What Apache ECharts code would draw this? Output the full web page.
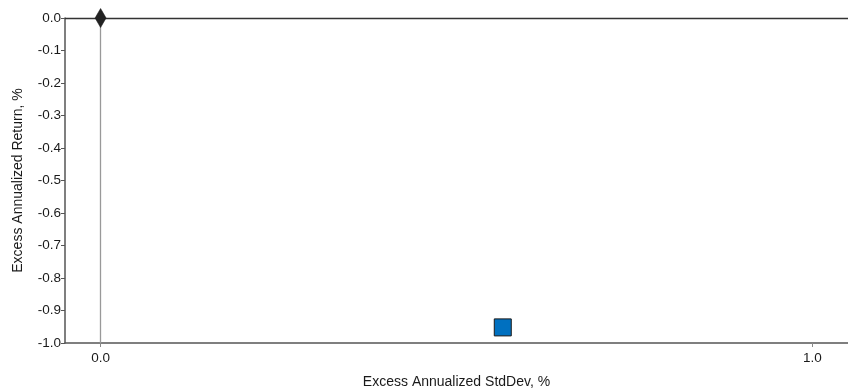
<!DOCTYPE html>
<html>
<head>
<meta charset="utf-8">
<script src="https://cdn.jsdelivr.net/npm/echarts@6/dist/echarts.min.js"></script>
<style>
  html, body { margin: 0; padding: 0; background: #fff; }
  #chart { width: 848px; height: 391px; }
</style>
</head>
<body>
<div id="chart"></div>
<script>
// Risk/return points: excess annualized std dev (x) vs excess annualized return (y), in %
const benchmarkPoint = [0.0, 0.0];
const portfolioPoint = [0.565, -0.952];

const xTicks = [0.0, 1.0];
const yMin = -1.0, yMax = 0.0, yStep = 0.1;
const xMin = -0.05, xMax = 1.05;

const xTitle = 'Excess Annualized StdDev, %';
const yTitle = 'Excess Annualized Return, %';

const chart = echarts.init(document.getElementById('chart'), null, { renderer: 'canvas' });

const font = 'Arial, "Liberation Sans", sans-serif';

chart.setOption({
  animation: false,
  grid: { left: 65, right: 0, top: 18, bottom: 48, containLabel: false, outerBoundsMode: 'none' },
  xAxis: {
    type: 'value',
    min: xMin,
    max: xMax,
    name: xTitle,
    nameLocation: 'middle',
    nameGap: 32,
    nameTextStyle: { fontFamily: font, fontSize: 14, color: '#1a1a1a' },
    splitLine: { show: false },
    axisLine: { show: true, onZero: false, lineStyle: { color: '#555', width: 1.5 } },
    axisTick: {
      show: true, length: 4, lineStyle: { color: '#888' },
      customValues: xTicks
    },
    axisLabel: {
      fontFamily: font, fontSize: 13.5, color: '#1a1a1a', margin: 8,
      customValues: xTicks,
      formatter: v => v.toFixed(1)
    }
  },
  yAxis: {
    type: 'value',
    min: yMin,
    max: yMax,
    interval: yStep,
    name: yTitle,
    nameLocation: 'middle',
    nameGap: 40,
    nameRotate: 90,
    nameTextStyle: { fontFamily: font, fontSize: 14, color: '#1a1a1a' },
    splitLine: { show: false },
    axisLine: { show: true, onZero: false, lineStyle: { color: '#555', width: 1.5 } },
    axisTick: { show: true, length: 4, lineStyle: { color: '#555' } },
    axisLabel: {
      fontFamily: font, fontSize: 13.5, color: '#1a1a1a', margin: 4,
      formatter: v => v.toFixed(1)
    }
  },
  series: [
    {
      type: 'scatter',
      data: [benchmarkPoint],
      symbol: 'diamond',
      symbolSize: [11, 19],
      itemStyle: { color: '#222222', borderColor: '#111', borderWidth: 0.5, opacity: 1 },
      z: 5,
      markLine: {
        silent: true,
        symbol: 'none',
        label: { show: false },
        data: [
          { yAxis: 0, lineStyle: { color: '#333', width: 1.3, type: 'solid' } },
          { xAxis: 0, lineStyle: { color: '#999', width: 1.3, type: 'solid' } }
        ]
      }
    },
    {
      type: 'scatter',
      data: [portfolioPoint],
      symbol: 'rect',
      symbolSize: 17,
      itemStyle: { color: '#0070C0', borderColor: '#1a1a1a', borderWidth: 1, opacity: 1 },
      z: 6
    }
  ]
});
</script>
</body>
</html>
